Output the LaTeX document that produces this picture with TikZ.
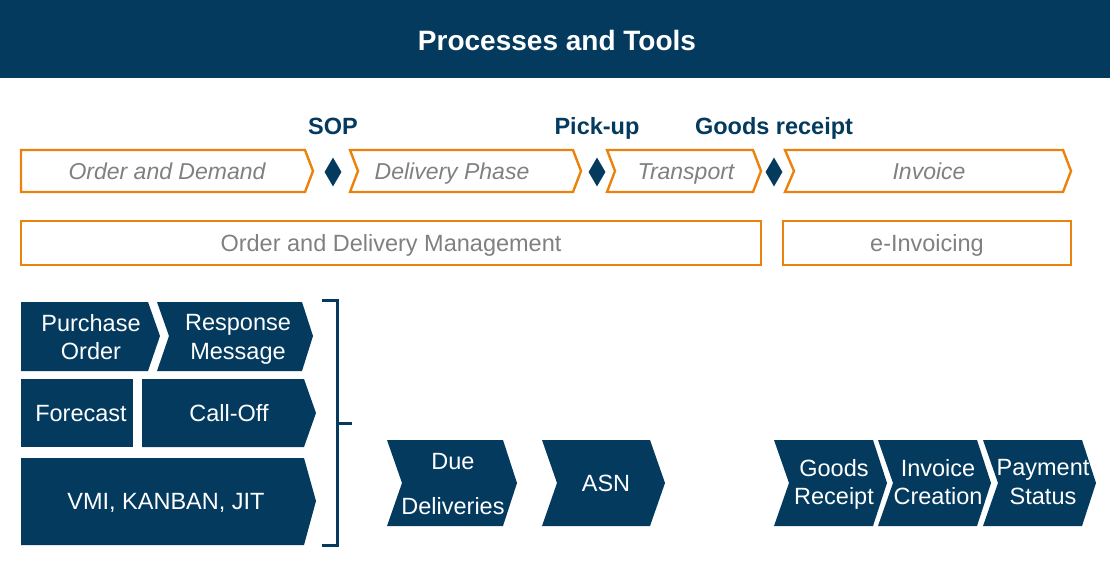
\documentclass[tikz,border=0pt]{standalone}
\usepackage{fontspec}
\setmainfont{Liberation Sans}
\usetikzlibrary{shapes.geometric}
\definecolor{navy}{RGB}{3,58,94}
\definecolor{amber}{RGB}{234,130,12}
\definecolor{ashgrey}{RGB}{128,128,128}

\begin{document}
\begin{tikzpicture}[x=1pt,y=-1pt,
    frame/.style={draw=amber, line width=2.4pt, line join=miter},
    tile/.style={fill=navy},
    captext/.style={text height=#1, text depth=0pt},
    phase/.style={captext=16.5pt, font=\fontsize{23}{27}\selectfont\itshape, text=ashgrey},
    tool/.style={captext=16.8pt, font=\fontsize{23.5}{28}\selectfont, text=ashgrey},
    gate/.style={captext=16.8pt, font=\fontsize{23.5}{28}\selectfont\bfseries, text=navy},
    milestone/.style={diamond, fill=navy, inner sep=0pt, minimum width=17pt, minimum height=29pt},
    tiletext/.style={text depth=0pt, font=\fontsize{23.5}{28.2}\selectfont, text=white, align=center}]
    \useasboundingbox (0,0) rectangle (1110,562);
    % header
    \fill[navy] (0,0) rectangle (1110,78);
    \node[captext=20pt, font=\fontsize{28}{33}\selectfont\bfseries, text=white] (title) at (557,40) {Processes and Tools};
    % milestones
    \node[gate] (sop) at (333,126) {SOP};
    \node[gate] (pickup) at (597,126) {Pick-up};
    \node[gate] (receipt) at (774,126) {Goods receipt};
    \node[milestone] (sopmark) at (333,172) {};
    \node[milestone] (pickupmark) at (597,172) {};
    \node[milestone] (receiptmark) at (774,172) {};
    % phases
    \draw[frame] (21,150) -- (305,150) -- (313,171) -- (305,192) -- (21,192) -- cycle;
    \draw[frame] (350,150) -- (573,150) -- (581,171) -- (573,192) -- (350,192) -- (358,171) -- cycle;
    \draw[frame] (607,150) -- (753,150) -- (761,171) -- (753,192) -- (607,192) -- (615,171) -- cycle;
    \draw[frame] (785,150) -- (1063,150) -- (1071,171) -- (1063,192) -- (785,192) -- (794,171) -- cycle;
    \node[phase] (demand) at (167,171) {Order and Demand};
    \node[phase] (delivery) at (452,171) {Delivery Phase};
    \node[phase] (transport) at (686,171) {Transport};
    \node[phase] (invoice) at (929,171) {Invoice};
    % tools
    \draw[frame] (21,221) rectangle (761,265);
    \draw[frame] (783,221) rectangle (1071,265);
    \node[tool] (odm) at (391,243) {Order and Delivery Management};
    \node[tool] (einv) at (927,243) {e-Invoicing};
    % messages
    \fill[tile] (21,302) -- (148,302) -- (160,336) -- (148,371) -- (21,371) -- cycle;
    \fill[tile] (157,302) -- (302,302) -- (313,336) -- (302,371) -- (157,371) -- (169,336) -- cycle;
    \fill[tile] (21,379) rectangle (133,447);
    \fill[tile] (142,379) -- (304,379) -- (316,413) -- (304,447) -- (142,447) -- cycle;
    \fill[tile] (21,458) -- (304,458) -- (316,501) -- (304,545) -- (21,545) -- cycle;
    \node[tiletext] (po) at (91,337) {Purchase\\Order};
    \node[tiletext] (response) at (238,337) {Response\\Message};
    \node[tiletext] (forecast) at (81,413) {Forecast};
    \node[tiletext] (calloff) at (229,413) {Call-Off};
    \node[tiletext] (vmi) at (166,501) {VMI, KANBAN, JIT};
    \draw[navy, line width=3pt] (322,300) -- (337,300) -- (337,545) -- (322,545);
    \draw[navy, line width=3pt] (337,423) -- (352,423);
    % delivery and invoicing steps
    \fill[tile] (387,440) -- (503,440) -- (517,483) -- (503,526) -- (387,526) -- (402,483) -- cycle;
    \fill[tile] (542,440) -- (650,440) -- (665,483) -- (650,526) -- (542,526) -- (557,483) -- cycle;
    \node[tiletext] (due) at (453,484) {Due\\[16pt]Deliveries};
    \node[tiletext] (asn) at (606,483) {ASN};
    \foreach \x/\name/\txt in {774/gr/Goods\\Receipt, 878/ic/Invoice\\Creation, 983/ps/Payment\\Status}
    {
        \fill[tile] (\x,440) -- (\x+99,440) -- (\x+113,483) -- (\x+99,526) -- (\x,526) -- (\x+15,483) -- cycle;
        \node[tiletext] (\name) at (\x+60,482) {\txt};
    }
\end{tikzpicture}
\end{document}
